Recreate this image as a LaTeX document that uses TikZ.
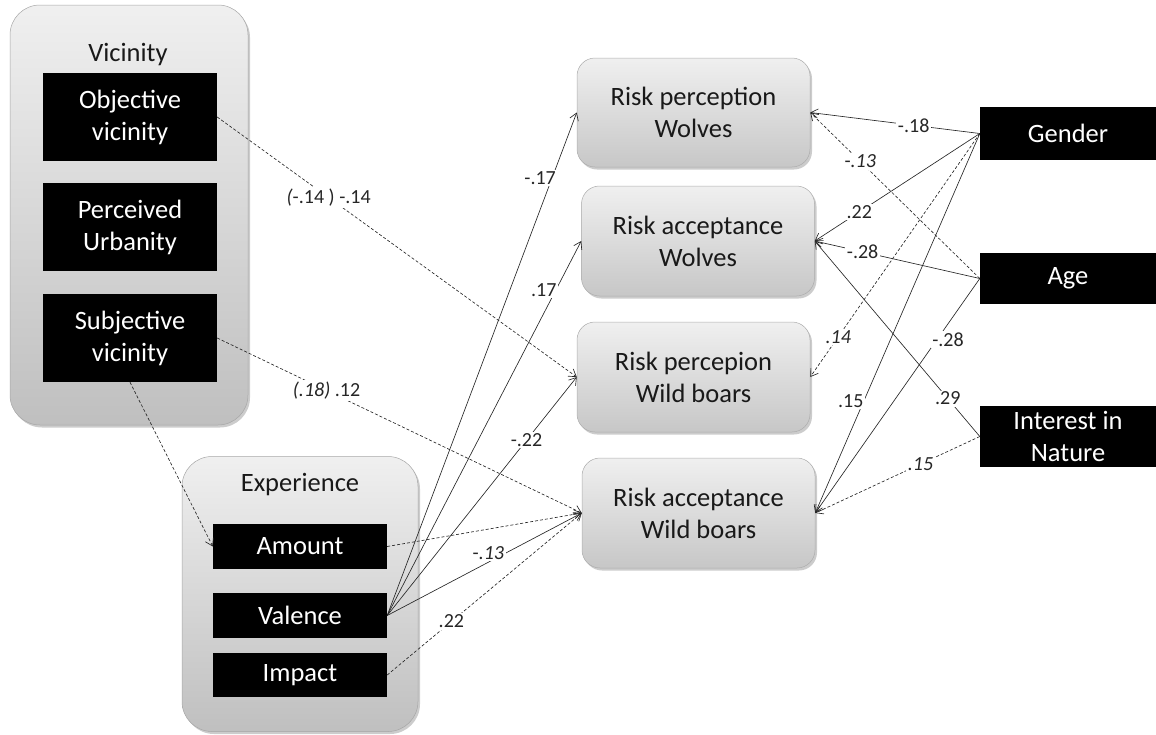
\documentclass[tikz,border=0pt]{standalone}
\usepackage{fontspec}
\setmainfont{Carlito}
\usetikzlibrary{arrows.meta,shadows}
\begin{document}
\begin{tikzpicture}[x=1pt,y=-1pt,
  group/.style={rounded corners=30pt, top color=gray!12, bottom color=gray!50,
    draw=gray!70, line width=0.5pt,
    drop shadow={shadow xshift=2pt, shadow yshift=-2.5pt, opacity=0.4}},
  outcome/.style={rounded corners=18pt, top color=gray!12, bottom color=gray!44,
    draw=gray!65, line width=0.5pt, minimum width=233pt, minimum height=110pt,
    align=center, text=black!90, font=\fontsize{26.5}{32}\selectfont,
    drop shadow={shadow xshift=2pt, shadow yshift=-2.5pt, opacity=0.4}},
  blackbox/.style={fill=black, text=white, align=center, inner sep=0pt,
    font=\fontsize{26.5}{32}\selectfont},
  title/.style={text=black!90, font=\fontsize{26.5}{32}\selectfont},
  link/.style={draw=black!85, line width=0.65pt, -{Straight Barb[length=7pt,width=9pt]}},
  dlink/.style={link, dash pattern=on 3pt off 2pt},
  lbl/.style={fill=white, inner sep=1.5pt, text=black!85, font=\fontsize{20}{24}\selectfont}
]
\useasboundingbox (0,0) rectangle (1156,734);

% Vicinity group
\node[group, minimum width=238pt, minimum height=420pt] (vic) at (129,215) {};
\node[title] (vict) at (128,55) {Vicinity};
\node[blackbox, minimum width=174pt, minimum height=88pt] (obj)  at (130,117) {Objective\\vicinity};
\node[blackbox, minimum width=174pt, minimum height=88pt] (perc) at (130,227) {Perceived\\Urbanity};
\node[blackbox, minimum width=174pt, minimum height=88pt] (subj) at (130,338) {Subjective\\vicinity};

% Experience group
\node[group, minimum width=236pt, minimum height=275pt] (exp) at (300,594) {};
\node[title] (expt) at (300,485) {Experience};
\node[blackbox, minimum width=174pt, minimum height=45pt] (amount)  at (300,546.5) {Amount};
\node[blackbox, minimum width=174pt, minimum height=45pt] (valence) at (300,615.5) {Valence};
\node[blackbox, minimum width=174pt, minimum height=44pt] (impact)  at (300,675) {Impact};

% Outcomes
\node[outcome, minimum height=109pt] (rpw)  at (693.5,112.5) {Risk perception\\Wolves};
\node[outcome] (raw)  at (698,241)   {Risk acceptance\\Wolves};
\node[outcome] (rpwb) at (693.5,377) {Risk percepion\\Wild boars};
\node[outcome] (rawb) at (698.5,513) {Risk acceptance\\Wild boars};

% Covariates
\node[blackbox, minimum width=176pt, minimum height=53pt] (gender) at (1068,133.5) {Gender};
\node[blackbox, minimum width=176pt, minimum height=51pt] (age)    at (1068,278.5) {Age};
\node[blackbox, minimum width=176pt, minimum height=61pt] (nature) at (1068,436.5) {Interest in\\Nature};

% Vicinity paths
\draw[dlink] (obj.east) -- node[lbl,pos=0.31] {\textit{(}-.14 ) -.14} (rpwb.west);
\draw[dlink] (subj.east) -- node[lbl,pos=0.30] {\textit{(.18)} .12} (rawb.west);
\draw[dlink] (subj.south) -- (amount.west);

% Experience paths
\draw[link] (valence.east) -- node[lbl,pos=0.87,xshift=-12pt] {-.17} (rpw.west);
\draw[link] (valence.east) -- node[lbl,pos=0.869,xshift=-12pt] {.17} (raw.west);
\draw[link] (valence.east) -- node[lbl,pos=0.735] {-.22} (rpwb.west);
\draw[link] (valence.east) -- node[lbl,pos=0.52,yshift=9pt] {-\textit{.13}} (rawb.west);
\draw[dlink] (amount.east) -- (rawb.west);
\draw[dlink] (impact.east) -- node[lbl,pos=0.33] {.22} (rawb.west);

% Covariate paths
\draw[link] (gender.west) -- node[lbl,pos=0.39] {-.18} (rpw.east);
\draw[link] (gender.west) -- node[lbl,pos=0.73] {.22} (raw.east);
\draw[dlink] (gender.west) -- node[lbl,pos=0.835] {\textit{.14}} (rpwb.east);
\draw[link] (gender.west) -- node[lbl,pos=0.705,xshift=-13pt] {.15} (rawb.east);
\draw[dlink] (age.west) -- node[lbl,pos=0.705] {-\textit{.13}} (rpw.east);
\draw[link] (age.west) -- node[lbl,pos=0.71] {-.28} (raw.east);
\draw[link] (age.west) -- node[lbl,pos=0.26,xshift=11pt] {-.28} (rawb.east);
\draw[link] (nature.west) -- node[lbl,pos=0.194] {.29} (raw.east);
\draw[dlink] (nature.west) -- node[lbl,pos=0.36] {\textit{.15}} (rawb.east);
\end{tikzpicture}
\end{document}
